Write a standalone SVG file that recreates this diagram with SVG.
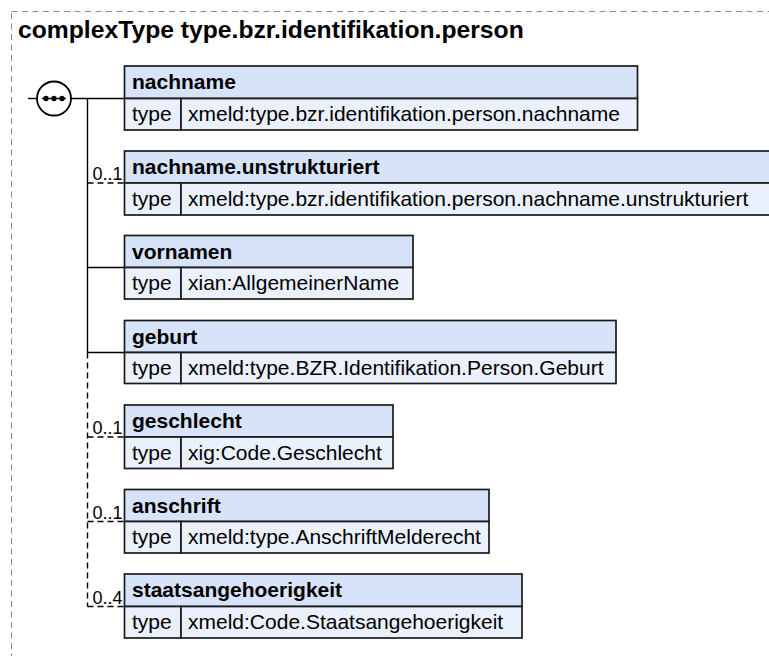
<svg xmlns="http://www.w3.org/2000/svg" width="769" height="656" viewBox="0 0 769 656">
<style>
.hdr{fill:#d6e3f8;stroke:#1a1a1a;stroke-width:1.7}
.row{fill:#eaf0fc;stroke:#1a1a1a;stroke-width:1.7}
.t{font-family:"Liberation Sans",Arial,sans-serif;font-size:21px;fill:#000}
.b{font-weight:bold}
.lbl{font-family:"Liberation Sans",Arial,sans-serif;font-size:18px;fill:#000;text-anchor:end}
.ln{stroke:#000;stroke-width:1.4;fill:none}
.dl{stroke:#000;stroke-width:1.4;fill:none;stroke-dasharray:6,4}
</style>
<rect x="11.5" y="11.5" width="800" height="700" fill="none" stroke="#8a8a8a" stroke-width="1" stroke-dasharray="6,4.5"/>
<text x="18" y="37.5" class="t b" style="font-size:24.7px">complexType type.bzr.identifikation.person</text>
<g id="connectors">
<line class="ln" x1="28" y1="98.5" x2="37" y2="98.5"/>
<line class="ln" x1="71" y1="98.5" x2="125" y2="98.5"/>
<line class="ln" x1="87.5" y1="98.5" x2="87.5" y2="352.5"/>
<line class="dl" x1="87.5" y1="183" x2="125" y2="183"/>
<line class="ln" x1="87.5" y1="267.5" x2="125" y2="267.5"/>
<line class="ln" x1="87.5" y1="352.5" x2="125" y2="352.5"/>
<path class="dl" d="M87.5 352.5 V606.5"/>
<line class="dl" x1="87.5" y1="437" x2="125" y2="437"/>
<line class="dl" x1="87.5" y1="521.5" x2="125" y2="521.5"/>
<line class="dl" x1="87.5" y1="606.5" x2="125" y2="606.5"/>
<text class="lbl" x="122.5" y="180">0..1</text>
<text class="lbl" x="122.5" y="434">0..1</text>
<text class="lbl" x="122.5" y="518.5">0..1</text>
<text class="lbl" x="122.5" y="603.5">0..4</text>
</g>
<g id="sequence">
<circle cx="54" cy="98.5" r="17" fill="#fff" stroke="#000" stroke-width="1.8"/>
<line class="ln" x1="42" y1="98.5" x2="66" y2="98.5"/>
<circle cx="46" cy="98.5" r="2.7"/>
<circle cx="54" cy="98.5" r="2.7"/>
<circle cx="62" cy="98.5" r="2.7"/>
</g>
<g id="nachname">
<rect class="hdr" x="124.5" y="66" width="513" height="32.5"/>
<rect class="row" x="124.5" y="98.5" width="56.5" height="31.5"/>
<rect class="row" x="181" y="98.5" width="456.5" height="31.5"/>
<text class="t b" x="132" y="89">nachname</text>
<text class="t" x="132" y="121">type</text>
<text class="t" x="188" y="121">xmeld:type.bzr.identifikation.person.nachname</text>
</g>
<g id="nachname.unstrukturiert">
<rect class="hdr" x="124.5" y="151" width="660" height="32"/>
<rect class="row" x="124.5" y="183" width="56.5" height="32"/>
<rect class="row" x="181" y="183" width="603.5" height="32"/>
<text class="t b" x="132" y="174">nachname.unstrukturiert</text>
<text class="t" x="132" y="206">type</text>
<text class="t" x="188" y="206">xmeld:type.bzr.identifikation.person.nachname.unstrukturiert</text>
</g>
<g id="vornamen">
<rect class="hdr" x="124.5" y="235.5" width="288.5" height="32"/>
<rect class="row" x="124.5" y="267.5" width="56.5" height="31.5"/>
<rect class="row" x="181" y="267.5" width="232" height="31.5"/>
<text class="t b" x="132" y="258.5">vornamen</text>
<text class="t" x="132" y="290">type</text>
<text class="t" x="188" y="290">xian:AllgemeinerName</text>
</g>
<g id="geburt">
<rect class="hdr" x="124.5" y="320.5" width="491.5" height="32"/>
<rect class="row" x="124.5" y="352.5" width="56.5" height="31"/>
<rect class="row" x="181" y="352.5" width="435" height="31"/>
<text class="t b" x="132" y="343.5">geburt</text>
<text class="t" x="132" y="375">type</text>
<text class="t" x="188" y="375">xmeld:type.BZR.Identifikation.Person.Geburt</text>
</g>
<g id="geschlecht">
<rect class="hdr" x="124.5" y="405" width="268.5" height="32"/>
<rect class="row" x="124.5" y="437" width="56.5" height="31.5"/>
<rect class="row" x="181" y="437" width="212" height="31.5"/>
<text class="t b" x="132" y="428">geschlecht</text>
<text class="t" x="132" y="459.5">type</text>
<text class="t" x="188" y="459.5">xig:Code.Geschlecht</text>
</g>
<g id="anschrift">
<rect class="hdr" x="124.5" y="489.5" width="364.5" height="32"/>
<rect class="row" x="124.5" y="521.5" width="56.5" height="31.5"/>
<rect class="row" x="181" y="521.5" width="308" height="31.5"/>
<text class="t b" x="132" y="512.5">anschrift</text>
<text class="t" x="132" y="544">type</text>
<text class="t" x="188" y="544">xmeld:type.AnschriftMelderecht</text>
</g>
<g id="staatsangehoerigkeit">
<rect class="hdr" x="124.5" y="574" width="397.5" height="32.5"/>
<rect class="row" x="124.5" y="606.5" width="56.5" height="31.5"/>
<rect class="row" x="181" y="606.5" width="341" height="31.5"/>
<text class="t b" x="132" y="597">staatsangehoerigkeit</text>
<text class="t" x="132" y="629">type</text>
<text class="t" x="188" y="629">xmeld:Code.Staatsangehoerigkeit</text>
</g>
</svg>
